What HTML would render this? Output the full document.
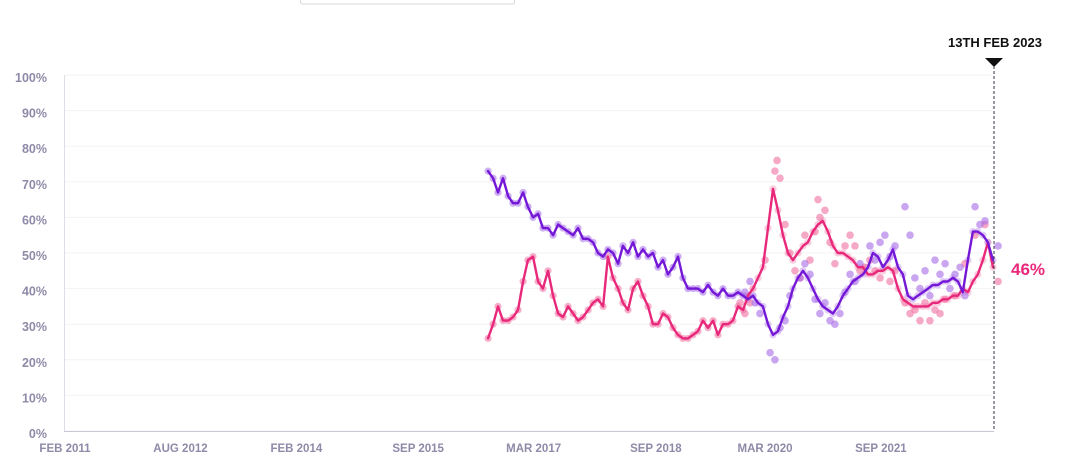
<!DOCTYPE html>
<html><head><meta charset="utf-8"><style>
body{margin:0;background:#fff;font-family:"Liberation Sans",sans-serif}
svg text{font-family:"Liberation Sans",sans-serif;font-weight:bold}
</style></head><body>
<svg id="chart" width="1068" height="462" viewBox="0 0 1068 462" xmlns="http://www.w3.org/2000/svg">
<rect x="300.5" y="-4" width="214" height="8" rx="2" fill="#fff" stroke="#d8d8de"/>
<g id="grid"></g><g id="axes"></g><g id="dots"></g><g id="lines"></g>
<g id="marker">
<text x="995" y="47" text-anchor="middle" font-size="13" fill="#111">13TH FEB 2023</text>
<polygon points="985,58 1003,58 994,67" fill="#111"/>
<line x1="994" y1="66" x2="994" y2="431" stroke="#334" stroke-width="1" stroke-dasharray="3,2"/>
</g>
<text x="1011" y="275" font-size="17" fill="#e8287a">46%</text>
</svg>
<script>
const START = 2004;
const lineDays = [0,24,47,71,95,118,142,166,189,213,237,260,284,308,332,355,379,403,426,450,474,497,521,545,568,592,616,639,663,687,710,734,758,781,805,829,852,876,900,923,947,971,994,1018,1042,1066,1089,1113,1137,1160,1184,1208,1231,1255,1279,1302,1326,1350,1373,1397,1421,1444,1468,1492,1515,1539,1563,1586,1610,1634,1657,1681,1705,1728,1752,1776,1800,1823,1847,1871,1894,1918,1942,1965,1989,2013,2036,2060,2084,2107,2131,2155,2178,2202,2226,2249,2273,2297,2320,2344,2368,2392];
const purpleValues = [73,71,67,71,66,64,64,67,63,60,61,57,57,55,58,57,56,55,57,54,54,53,50,49,51,50,47,52,50,53,49,51,49,50,46,48,44,46,49,43,40,40,40,39,41,39,38,40,38,38,39,38,37,38,36,35,30,27,28,32,35,40,43,45,43,40,37,35,34,33,35,38,40,42,43,44,46,50,49,46,48,51,46,44,38,37,38,39,40,41,41,42,42,43,42,39,48,56,56,55,53,48];
const pinkValues = [26,30,35,31,31,32,34,42,48,49,42,40,45,38,33,32,35,33,31,32,34,36,37,35,49,43,40,36,34,40,42,38,35,30,30,33,32,29,27,26,26,27,28,31,29,31,27,30,30,31,35,34,38,40,43,46,57,68,62,55,50,48,50,52,53,56,58,59,56,52,50,50,49,48,46,46,44,44,45,45,46,45,40,37,36,35,35,35,35,36,36,37,37,38,38,40,39,42,44,48,53,46];
const purplePollDays = [3221,3245,3269,3292,3340,3363,3387,3411,3434,3482,3505,3529,3553,3576,3600,3624,3647,3671,3695,3719,3742,3766,3813,3837,3861,3884,3908,3932,3979,4003,4026,4050,4074,4097,4121,4145,4169,4192,4216,4240,4263,4311,4334,4358,4420];
const purplePolls = [39,42,36,33,22,20,29,31,38,43,47,44,37,33,36,31,30,33,39,44,42,47,52,48,53,55,49,52,63,55,43,40,45,38,48,44,47,40,44,46,38,63,58,59,52];
const pinkPollDays = [3198,3221,3245,3316,3363,3373,3387,3411,3434,3458,3482,3505,3529,3553,3567,3576,3600,3624,3647,3695,3719,3742,3766,3790,3813,3837,3861,3908,3932,3979,4003,4026,4050,4074,4097,4121,4145,4169,4216,4263,4311,4358,4420];
const pinkPolls = [36,33,36,48,73,76,71,58,50,45,43,55,48,56,65,60,62,53,47,52,55,52,45,46,48,45,43,42,45,36,33,34,31,36,31,34,33,37,38,47,55,58,42];
const yTicks = [0,10,20,30,40,50,60,70,80,90,100];
const xTickLabels = ["FEB 2011","AUG 2012","FEB 2014","SEP 2015","MAR 2017","SEP 2018","MAR 2020","SEP 2021"];
const xTickDays = [0,547,1096,1673,2220,2799,3316,3865];

const NS="http://www.w3.org/2000/svg";
const X0=65, PXD=0.2111, Y0=431, PXP=3.56;
const xs=d=>X0+d*PXD;
const ys=v=>Y0-v*PXP;
function mk(tag,attrs,parent){const e=document.createElementNS(NS,tag);for(const k in attrs)e.setAttribute(k,attrs[k]);parent.appendChild(e);return e;}
const grid=document.getElementById('grid'),axes=document.getElementById('axes'),dots=document.getElementById('dots'),lines=document.getElementById('lines');
yTicks.forEach(v=>{
  const l=mk('line',{x1:65,x2:993,y1:ys(v),y2:ys(v),stroke:'#f3f3f5','stroke-width':1},grid);
  
  
  const t=mk('text',{x:47,y:ys(v)+7,'text-anchor':'end','font-size':12.5,fill:'#8e8aa8'},axes);
  t.textContent=v+'%';
  
  
});
const ya=mk('line',{x1:64.5,x2:64.5,y1:75,y2:431,stroke:'#dedde6'},axes);


const xa=mk('line',{x1:64,x2:994,y1:431.5,y2:431.5,stroke:'#c9c7d6'},axes);


xTickLabels.forEach((s,i)=>{
  const t=mk('text',{x:xs(xTickDays[i]),y:452,'text-anchor':'middle','font-size':11.5,fill:'#8e8aa8'},axes);
  t.textContent=s;
  
  
});
function drawPolls(days,vals,color,name){
  days.forEach((d,i)=>{
    const c=mk('circle',{cx:xs(d),cy:ys(vals[i]),r:3.8,fill:color,opacity:0.6},dots);
    
    
  });
}
function drawLineDots(vals,color,name){
  vals.forEach((v,i)=>{
    const c=mk('circle',{cx:xs(START+lineDays[i]),cy:ys(v),r:3.6,fill:color,opacity:i<54?0.55:0.35},dots);
    
    
  });
}
drawLineDots(pinkValues,'#f06fa0','pink-poll-dot');
drawLineDots(purpleValues,'#a66be8','purple-poll-dot');
drawPolls(pinkPollDays,pinkPolls,'#f06fa0','pink-poll-dot');
drawPolls(purplePollDays,purplePolls,'#a66be8','purple-poll-dot');
function drawLine(vals,color,name){
  const pts=vals.map((v,i)=>[xs(START+lineDays[i]),ys(v)]);
  const p=mk('polyline',{points:pts.map(p=>p[0].toFixed(1)+','+p[1].toFixed(1)).join(' '),fill:'none',stroke:color,'stroke-width':2.4,'stroke-linejoin':'round','stroke-linecap':'round'},lines);
  
  
}
drawLine(pinkValues,'#e8287a','pink-trend-line');
drawLine(purpleValues,'#7417d6','purple-trend-line');
</script>
</body></html>
